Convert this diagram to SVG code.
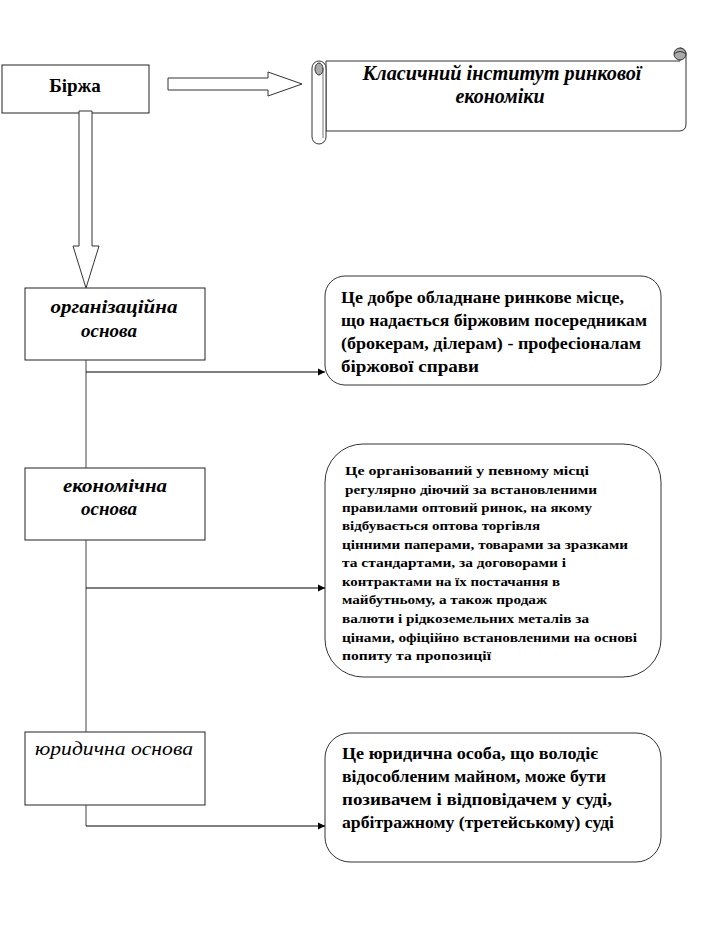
<svg xmlns="http://www.w3.org/2000/svg" width="709" height="948" viewBox="0 0 709 948">
<style>
.box{fill:#fff;stroke:#222;stroke-width:1}
.rbox{fill:#fff;stroke:#333;stroke-width:1}
.blk{fill:#fff;stroke:#333;stroke-width:1}
.lbl{font-family:"Liberation Serif","Times New Roman",serif;font-style:italic;font-weight:bold;font-size:19px;fill:#000;text-anchor:middle}
.t1{font-family:"Liberation Serif","Times New Roman",serif;font-weight:bold;font-size:17px;fill:#000}
.t2{font-family:"Liberation Serif","Times New Roman",serif;font-weight:bold;font-size:13px;fill:#000}
.ttl{font-family:"Liberation Serif","Times New Roman",serif;font-style:italic;font-weight:bold;font-size:20px;fill:#000;text-anchor:middle}
.conn{stroke:#000;stroke-width:1;fill:none}
.vline{stroke:#444;stroke-width:1;fill:none}
</style>
<defs>
<marker id="ah" markerWidth="8" markerHeight="8" refX="7" refY="4" orient="auto" markerUnits="userSpaceOnUse">
<path d="M0,0.5 L7,4 L0,7.5 Z" fill="#000"/>
</marker>
</defs>
<rect width="709" height="948" fill="#fff"/>

<g id="birzha">
<rect class="box" x="2" y="65" width="147" height="48"/>
<text class="ttl" x="75" y="92" style="font-style:normal;font-size:19px">Біржа</text>
</g>

<g id="scroll">
<path class="blk" d="M326,61 L680,61 L680,48 A6,6 0 0 1 686,54 L686,124 Q686,131 679,131 L326,131 Z"/>
<circle cx="680" cy="54" r="6" fill="#aaa" stroke="#333" stroke-width="1"/>
<path d="M674,54 Q680,49 686,54" fill="none" stroke="#333"/>
<rect class="blk" x="312" y="61" width="14" height="83" rx="7" ry="7"/>
<line x1="323" y1="68" x2="323" y2="138" stroke="#777"/>
<ellipse cx="319" cy="69" rx="4" ry="6" fill="#aaa" stroke="#333"/>
<text class="ttl" x="502" y="80" textLength="279" lengthAdjust="spacingAndGlyphs">Класичний інститут ринкової</text>
<text class="ttl" x="500" y="103">економіки</text>
</g>

<g id="orgbasis">
<rect class="box" x="25" y="288" width="180" height="72"/>
<text class="lbl" x="114" y="313" textLength="127" lengthAdjust="spacingAndGlyphs">організаційна</text>
<text class="lbl" x="109" y="337">основа</text>
</g>

<g id="econbasis">
<rect class="box" x="25" y="468" width="180" height="72"/>
<text class="lbl" x="115" y="492" textLength="104" lengthAdjust="spacingAndGlyphs">економічна</text>
<text class="lbl" x="109" y="515">основа</text>
</g>

<g id="legalbasis">
<rect class="box" x="25" y="732" width="180" height="73"/>
<text class="lbl" x="114" y="755" textLength="158" lengthAdjust="spacingAndGlyphs" style="font-weight:normal">юридична основа</text>
</g>

<g id="desc1">
<rect class="rbox" x="325" y="276" width="336" height="109" rx="20" ry="20"/>
<text class="t1" x="341" y="303" textLength="283" lengthAdjust="spacingAndGlyphs">Це добре обладнане ринкове місце,</text>
<text class="t1" x="341" y="326" textLength="306" lengthAdjust="spacingAndGlyphs">що надається біржовим посередникам</text>
<text class="t1" x="341" y="349" textLength="300" lengthAdjust="spacingAndGlyphs">(брокерам, ділерам) - професіоналам</text>
<text class="t1" x="341" y="372" textLength="138" lengthAdjust="spacingAndGlyphs">біржової справи</text>
</g>

<g id="desc2">
<rect class="rbox" x="325" y="444" width="336" height="233" rx="38" ry="38"/>
<text class="t2" x="345" y="475" textLength="244" lengthAdjust="spacingAndGlyphs">Це організований у певному місці</text>
<text class="t2" x="345" y="494" textLength="252" lengthAdjust="spacingAndGlyphs">регулярно  діючий за встановленими</text>
<text class="t2" x="342" y="512" textLength="250" lengthAdjust="spacingAndGlyphs">правилами оптовий ринок, на якому</text>
<text class="t2" x="342" y="530" textLength="198" lengthAdjust="spacingAndGlyphs">відбувається  оптова торгівля</text>
<text class="t2" x="342" y="549" textLength="286" lengthAdjust="spacingAndGlyphs">цінними паперами, товарами за зразками</text>
<text class="t2" x="342" y="567" textLength="224" lengthAdjust="spacingAndGlyphs">та стандартами, за договорами і</text>
<text class="t2" x="342" y="586" textLength="218" lengthAdjust="spacingAndGlyphs">контрактами на їх  постачання в</text>
<text class="t2" x="342" y="604" textLength="205" lengthAdjust="spacingAndGlyphs">майбутньому,  а також продаж</text>
<text class="t2" x="342" y="623" textLength="247" lengthAdjust="spacingAndGlyphs">валюти і рідкоземельних  металів  за</text>
<text class="t2" x="342" y="642" textLength="295" lengthAdjust="spacingAndGlyphs">цінами, офіційно  встановленими на основі</text>
<text class="t2" x="342" y="660" textLength="149" lengthAdjust="spacingAndGlyphs">попиту та пропозиції</text>
</g>

<g id="desc3">
<rect class="rbox" x="325" y="733" width="336" height="129" rx="25" ry="25"/>
<text class="t1" x="342" y="759" textLength="256" lengthAdjust="spacingAndGlyphs">Це юридична особа, що володіє</text>
<text class="t1" x="342" y="782" textLength="264" lengthAdjust="spacingAndGlyphs">відособленим майном, може бути</text>
<text class="t1" x="342" y="805" textLength="270" lengthAdjust="spacingAndGlyphs">позивачем і відповідачем у суді,</text>
<text class="t1" x="342" y="828" textLength="272" lengthAdjust="spacingAndGlyphs">арбітражному (третейському) суді</text>
</g>

<g id="connectors">
<polygon class="blk" points="168,78 268,78 268,72 302,84 268,96 268,90 168,90"/>
<polygon class="blk" points="79,111 92,111 92,246 99,246 86,288 73,246 79,246"/>
<line class="vline" x1="86" y1="360" x2="86" y2="468"/>
<line class="vline" x1="86" y1="540" x2="86" y2="732"/>
<line class="vline" x1="86" y1="805" x2="86" y2="826"/>
<line class="conn" x1="86" y1="372" x2="325" y2="372" marker-end="url(#ah)"/>
<line class="conn" x1="86" y1="588" x2="325" y2="588" marker-end="url(#ah)"/>
<line class="conn" x1="86" y1="826" x2="325" y2="826" marker-end="url(#ah)"/>
</g>
</svg>
